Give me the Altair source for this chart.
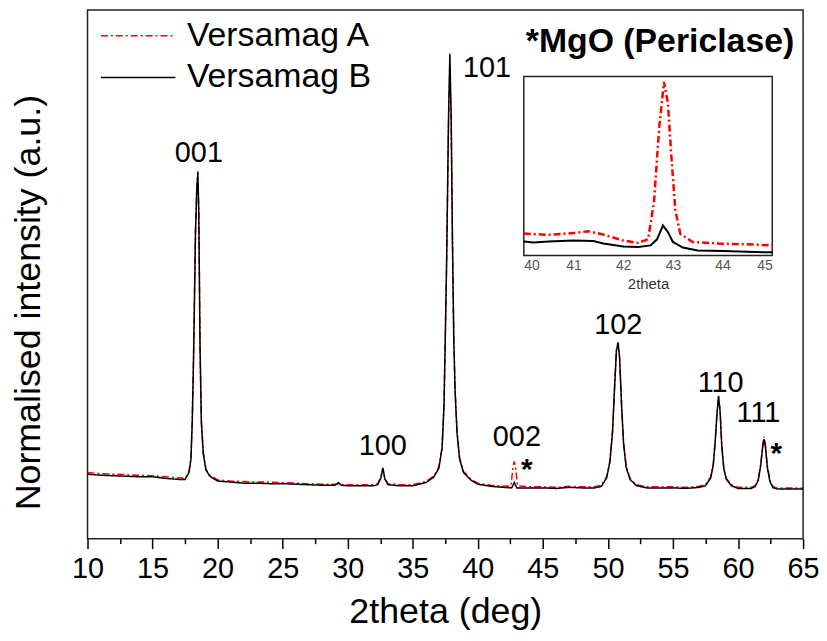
import altair as alt
import pandas as pd

FONT = "Liberation Sans, Arial, Helvetica, sans-serif"

# ---------------- main pattern data ----------------
# Versamag B (black, solid)
xB = [10, 11, 12, 13, 14, 15, 16, 17, 17.5, 17.8, 17.95, 18.05, 18.15, 18.3, 18.4, 18.48,
      18.55, 18.65, 18.75, 18.9, 19.1, 19.4, 20, 21, 22, 23, 24, 25, 26, 27, 28, 29,
      29.3, 29.5, 30, 31, 32, 32.3, 32.55, 32.7, 32.85, 33.1, 34, 35, 36, 36.6, 37.0,
      37.25, 37.4, 37.5, 37.6, 37.75, 37.85, 37.95, 38.05, 38.15, 38.25, 38.4, 38.6,
      38.9, 39.5, 40, 41, 42, 42.6, 42.8, 43.0, 44, 45, 46, 47, 48, 49, 49.5, 49.9,
      50.15, 50.35, 50.5, 50.65, 50.78, 50.9, 51.05, 51.2, 51.4, 51.7, 52.2, 53, 54,
      55, 56, 57, 57.5, 57.9, 58.1, 58.25, 58.38, 58.5, 58.62, 58.75, 58.9, 59.1, 59.5,
      60, 61, 61.3, 61.55, 61.75, 61.9, 62.0, 62.1, 62.25, 62.45, 62.7, 63, 64, 65]
yB = [12.2, 12.0, 11.9, 11.8, 11.7, 11.7, 11.4, 11.2, 11.2, 12.5, 15.0, 22.0, 34.0, 58.0, 66.0, 69.3,
      62.0, 36.0, 22.0, 16.0, 13.0, 11.8, 10.9, 10.7, 10.5, 10.5, 10.4, 10.4, 10.3, 10.2, 10.1, 10.1,
      10.6, 10.1, 10.0, 10.0, 10.0, 10.2, 11.5, 13.4, 11.3, 10.2, 10.0, 10.0, 10.6, 11.6, 13.3,
      17.0, 25.0, 38.0, 52.0, 80.0, 91.7, 80.0, 56.0, 38.0, 28.0, 20.0, 15.0,
      12.5, 11.0, 10.3, 9.9, 9.7, 9.6, 10.6, 9.6, 9.6, 9.6, 9.5, 9.7, 9.6, 9.6, 9.9, 11.5,
      14.5, 20.0, 28.0, 35.5, 37.1, 34.0, 25.0, 18.0, 13.5, 11.2, 10.0, 9.6, 9.6,
      9.6, 9.5, 9.7, 10.0, 11.5, 14.0, 18.5, 23.5, 27.0, 24.0, 17.5, 13.3, 11.2, 10.0,
      9.5, 9.5, 9.8, 11.0, 14.0, 17.5, 18.8, 17.5, 13.5, 10.8, 9.6, 9.4, 9.4, 9.4]

# Versamag A (red, dash-dot)
xA = [10, 11, 12, 13, 14, 15, 16, 17, 17.5, 17.8, 17.95, 18.05, 18.15, 18.3, 18.4, 18.48,
      18.55, 18.65, 18.75, 18.9, 19.1, 19.4, 20, 21, 22, 23, 24, 25, 26, 27, 28, 29,
      30, 31, 32, 32.3, 32.55, 32.7, 32.85, 33.1, 34, 35, 36, 36.6, 37.0,
      37.25, 37.4, 37.5, 37.6, 37.75, 37.85, 37.95, 38.05, 38.15, 38.25, 38.4, 38.6,
      38.9, 39.5, 40, 41, 42, 42.55, 42.7, 42.8, 42.9, 43.05, 44, 45, 46, 47, 48, 49, 49.5, 49.9,
      50.15, 50.35, 50.5, 50.65, 50.78, 50.9, 51.05, 51.2, 51.4, 51.7, 52.2, 53, 54,
      55, 56, 57, 57.5, 57.9, 58.1, 58.25, 58.38, 58.5, 58.62, 58.75, 58.9, 59.1, 59.5,
      60, 61, 61.3, 61.55, 61.75, 61.9, 62.0, 62.1, 62.25, 62.45, 62.7, 63, 64, 65]
yA = [12.5, 12.3, 12.2, 12.1, 12.0, 11.9, 11.7, 11.5, 11.4, 12.7, 15.3, 22.5, 34.5, 58.5, 66.5, 69.5,
      62.5, 36.5, 22.5, 16.3, 13.2, 12.0, 11.1, 10.9, 10.8, 10.7, 10.7, 10.6, 10.5, 10.4, 10.3, 10.3,
      10.2, 10.2, 10.2, 10.4, 11.6, 13.3, 11.4, 10.4, 10.2, 10.2, 10.8, 11.8, 13.5,
      17.3, 25.5, 38.5, 52.5, 79.0, 89.0, 79.0, 56.5, 38.5, 28.5, 20.5, 15.3,
      12.7, 11.2, 10.5, 10.1, 9.9, 10.0, 13.5, 14.6, 13.5, 10.0, 9.8, 9.8, 9.7, 9.9, 9.8, 9.8, 10.1, 11.7,
      14.7, 20.3, 28.3, 35.7, 37.0, 34.2, 25.3, 18.3, 13.7, 11.4, 10.2, 9.8, 9.8,
      9.8, 9.7, 9.9, 10.2, 11.7, 14.2, 18.8, 23.8, 26.8, 24.3, 17.8, 13.5, 11.4, 10.2,
      9.7, 9.7, 10.0, 11.2, 14.2, 17.8, 19.3, 17.8, 13.8, 11.0, 9.8, 9.6, 9.6, 9.6]

# ---------------- inset data (MgO 200 region) ----------------
xB_in = [40.0, 40.2, 40.5, 41.0, 41.4, 41.6, 42.0, 42.3, 42.55, 42.68, 42.8, 42.9, 43.0, 43.2,
         43.5, 44.0, 44.5, 45.0]
yB_in = [7.8, 7.2, 7.8, 8.3, 8.0, 6.7, 5.0, 4.7, 5.6, 9.0, 16.7, 13.0, 7.5, 4.4,
         2.8, 2.5, 2.0, 1.7]
xA_in = [40.0, 40.5, 41.0, 41.3, 41.6, 42.0, 42.3, 42.5, 42.62, 42.72, 42.82, 42.9, 42.97,
         43.05, 43.15, 43.4, 44.0, 44.5, 45.0]
yA_in = [12.2, 11.5, 12.5, 13.5, 11.7, 8.3, 7.0, 9.0, 30.0, 70.0, 97.0, 85.0, 55.0,
         25.0, 12.0, 7.5, 6.5, 6.2, 5.6]

# ---------------- annotations ----------------
hkl_text = ["001", "100", "101", "002", "102", "110", "111"]
hkl_x = [18.56, 32.7, 40.7, 43.0, 50.8, 58.66, 61.57]
hkl_y = [73.0, 17.5, 89.0, 19.3, 40.4, 29.4, 23.8]
star_x = [43.77, 62.94]
star_y = [13.0, 16.0]
series_names = ["Versamag A", "Versamag B"]

dfA = pd.DataFrame({"x": xA, "y": yA, "series": series_names[0]})
dfB = pd.DataFrame({"x": xB, "y": yB, "series": series_names[1]})
df_hkl = pd.DataFrame({"x": hkl_x, "y": hkl_y, "label": hkl_text})
df_star = pd.DataFrame({"x": star_x, "y": star_y, "label": ["*", "*"]})
df_title = pd.DataFrame({"x": [54.0], "y": [94.0], "label": ["*MgO (Periclase)"]})
dfA_in = pd.DataFrame({"x": xA_in, "y": yA_in})
dfB_in = pd.DataFrame({"x": xB_in, "y": yB_in})
df_frame = pd.DataFrame({"x": [40], "x2": [45], "y": [0], "y2": [100]})

W, H = 720, 532

X_main = alt.X(
    "x:Q",
    title="2theta (deg)",
    scale=alt.Scale(domain=[10, 65], nice=False, zero=False),
    axis=alt.Axis(
        values=[10 + 2.5 * i for i in range(23)],
        labelExpr="datum.value % 5 === 0 ? datum.label : ''",
        tickSize={"condition": {"test": "datum.value % 5 === 0", "value": 10}, "value": 5},
        tickColor="black", tickWidth=1.5, domain=False, grid=False,
        labelFontSize=29, labelFont=FONT, labelColor="black", labelPadding=6,
        labelOverlap=False, labelFlush=False,
        titleFontSize=36, titleFont=FONT, titleFontWeight="normal", titleColor="black",
        titlePadding=11,
    ),
)
Y_main = alt.Y(
    "y:Q",
    title="Normalised intensity (a.u.)",
    scale=alt.Scale(domain=[0, 100], nice=False),
    axis=alt.Axis(
        labels=False, ticks=False, domain=False, grid=False,
        titleFontSize=36, titleFont=FONT, titleFontWeight="normal", titleColor="black",
        titleX=-59, titleY=294, titleAngle=270, titleAlign="center", titleBaseline="middle",
    ),
)

legend = alt.Legend(
    title=None, orient="none", legendX=34, legendY=9,
    labelFontSize=34, labelFont=FONT, labelColor="black", labelLimit=400,
    symbolType="M-5,0H5", symbolSize=225, symbolStrokeWidth=1.5,
    labelOffset=32, rowPadding=8, padding=0,
)
color = alt.Color("series:N", scale=alt.Scale(domain=series_names, range=["#ff0000", "#000000"]),
                  legend=legend)
dash = alt.StrokeDash("series:N", scale=alt.Scale(domain=series_names, range=[[7, 3, 2, 3], [1, 0]]),
                      legend=legend)

red = alt.Chart(dfA).mark_line(strokeWidth=1.5).encode(x=X_main, y=Y_main, color=color, strokeDash=dash)
black = alt.Chart(dfB).mark_line(strokeWidth=1.5).encode(x=X_main, y=Y_main, color=color, strokeDash=dash)
hkl = alt.Chart(df_hkl).mark_text(fontSize=29, font=FONT, color="black", baseline="middle").encode(
    x=X_main, y=Y_main, text="label:N")
stars = alt.Chart(df_star).mark_text(fontSize=30, font=FONT, fontWeight="bold", color="black",
                                     baseline="middle").encode(x=X_main, y=Y_main, text="label:N")
mgo = alt.Chart(df_title).mark_text(fontSize=34, font=FONT, fontWeight="bold", color="black",
                                    baseline="middle").encode(x=X_main, y=Y_main, text="label:N")

main = alt.layer(red, black, hkl, stars, mgo)

X_in = alt.X(
    "x:Q", title="2theta",
    scale=alt.Scale(domain=[40, 45], nice=False, zero=False, range=[439, 689]),
    axis=alt.Axis(
        orient="bottom", offset=-285, values=[40, 41, 42, 43, 44, 45],
        domain=False, ticks=False, grid=False,
        labelFontSize=14, labelFont=FONT, labelColor="#555555", labelPadding=3,
        titleFontSize=15, titleFont=FONT, titleFontWeight="normal", titleColor="#333333",
        titlePadding=4,
    ),
)
Y_in = alt.Y("y:Q", scale=alt.Scale(domain=[0, 100], nice=False, range=[247, 67]), axis=None)

frame = alt.Chart(df_frame).mark_rect(fill="white", stroke="#222222", strokeWidth=1.5).encode(
    x=X_in, x2="x2:Q", y=Y_in, y2="y2:Q")
red_in = alt.Chart(dfA_in).mark_line(color="#ff0000", strokeWidth=2.5, strokeDash=[7, 3, 2, 3]).encode(
    x=X_in, y=Y_in)
black_in = alt.Chart(dfB_in).mark_line(color="#000000", strokeWidth=2).encode(x=X_in, y=Y_in)

inset = alt.layer(frame, red_in, black_in)

chart = alt.layer(main, inset).resolve_scale(x="independent", y="independent").properties(
    width=W, height=H,
    padding={"left": 80, "top": 0, "right": 16, "bottom": 92},
    autosize=alt.AutoSizeParams(type="none"),
).configure_view(stroke="#222222", strokeWidth=1.5)

chart.save("out.html", embed_options={"renderer": "svg", "actions": False})
